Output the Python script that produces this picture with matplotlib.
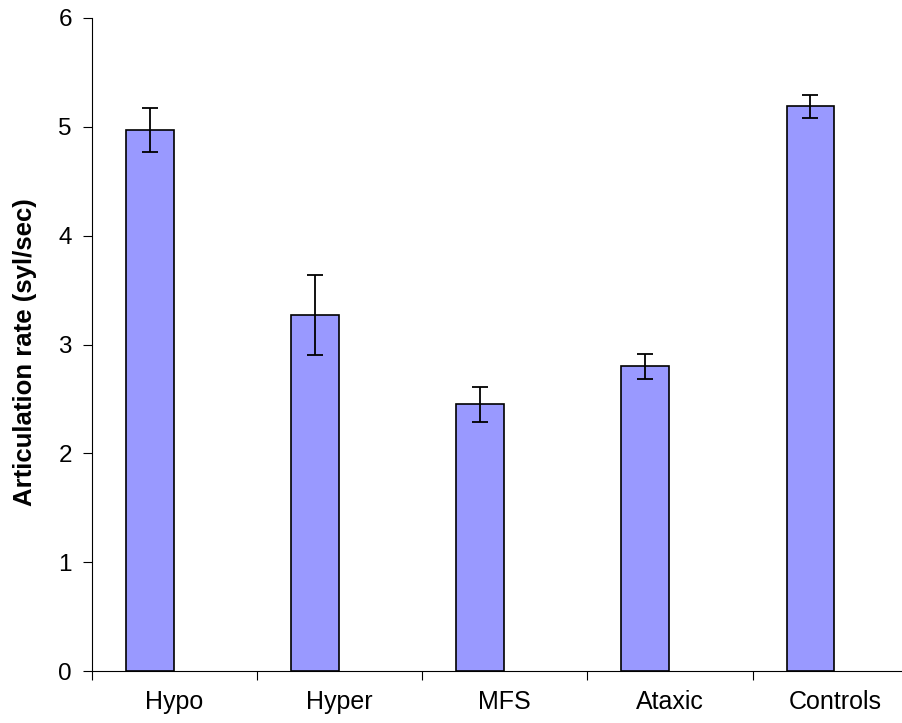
import matplotlib
matplotlib.use("Agg")
import matplotlib.pyplot as plt
import numpy as np

categories = ["Hypo", "Hyper", "MFS", "Ataxic", "Controls"]
values = [4.97, 3.27, 2.45, 2.80, 5.19]
errors = [0.20, 0.37, 0.16, 0.115, 0.105]
y_ticks = [0, 1, 2, 3, 4, 5, 6]
y_label = "Articulation rate (syl/sec)"

plt.rcParams['font.family'] = ['Liberation Sans', 'DejaVu Sans']

W, H = 903, 723
fig = plt.figure(figsize=(W / 100, H / 100), dpi=100)
ax = fig.add_axes([92 / W, (H - 671) / H, (917.7 - 92) / W, (671 - 18) / H])

x = np.arange(len(categories))
ax.bar(x - 0.15, values, width=0.288, color="#9999FF", edgecolor="black",
       linewidth=1.2, zorder=2)
ax.errorbar(x - 0.15, values, yerr=errors, fmt="none", ecolor="black",
            elinewidth=1.3, capsize=5.8, capthick=1.3, zorder=3)

ax.set_xlim(-0.5, len(categories) - 0.5)
ax.set_ylim(0, 6)
ax.set_yticks(y_ticks)
ax.set_yticklabels([str(t) for t in y_ticks], fontsize=17.5)
ax.set_xticks(np.arange(len(categories) + 1) - 0.5)
ax.set_xticklabels([])
ax.set_xticks(x, minor=True)
ax.set_xticklabels(categories, minor=True, fontsize=18)
ax.tick_params(axis='x', which='major', direction='out', length=6.5, width=0.8)
ax.tick_params(axis='x', which='minor', length=0, pad=14)
ax.tick_params(axis='y', direction='out', length=6.5, width=0.8, pad=8)

for s in ["top", "right"]:
    ax.spines[s].set_visible(False)
for s in ["left", "bottom"]:
    ax.spines[s].set_linewidth(0.8)

fig.text(25 / W, 1 - 352 / H, y_label, rotation=90, fontsize=18.5,
         fontweight="bold", ha="center", va="center")

fig.savefig("out.png", dpi=100)
